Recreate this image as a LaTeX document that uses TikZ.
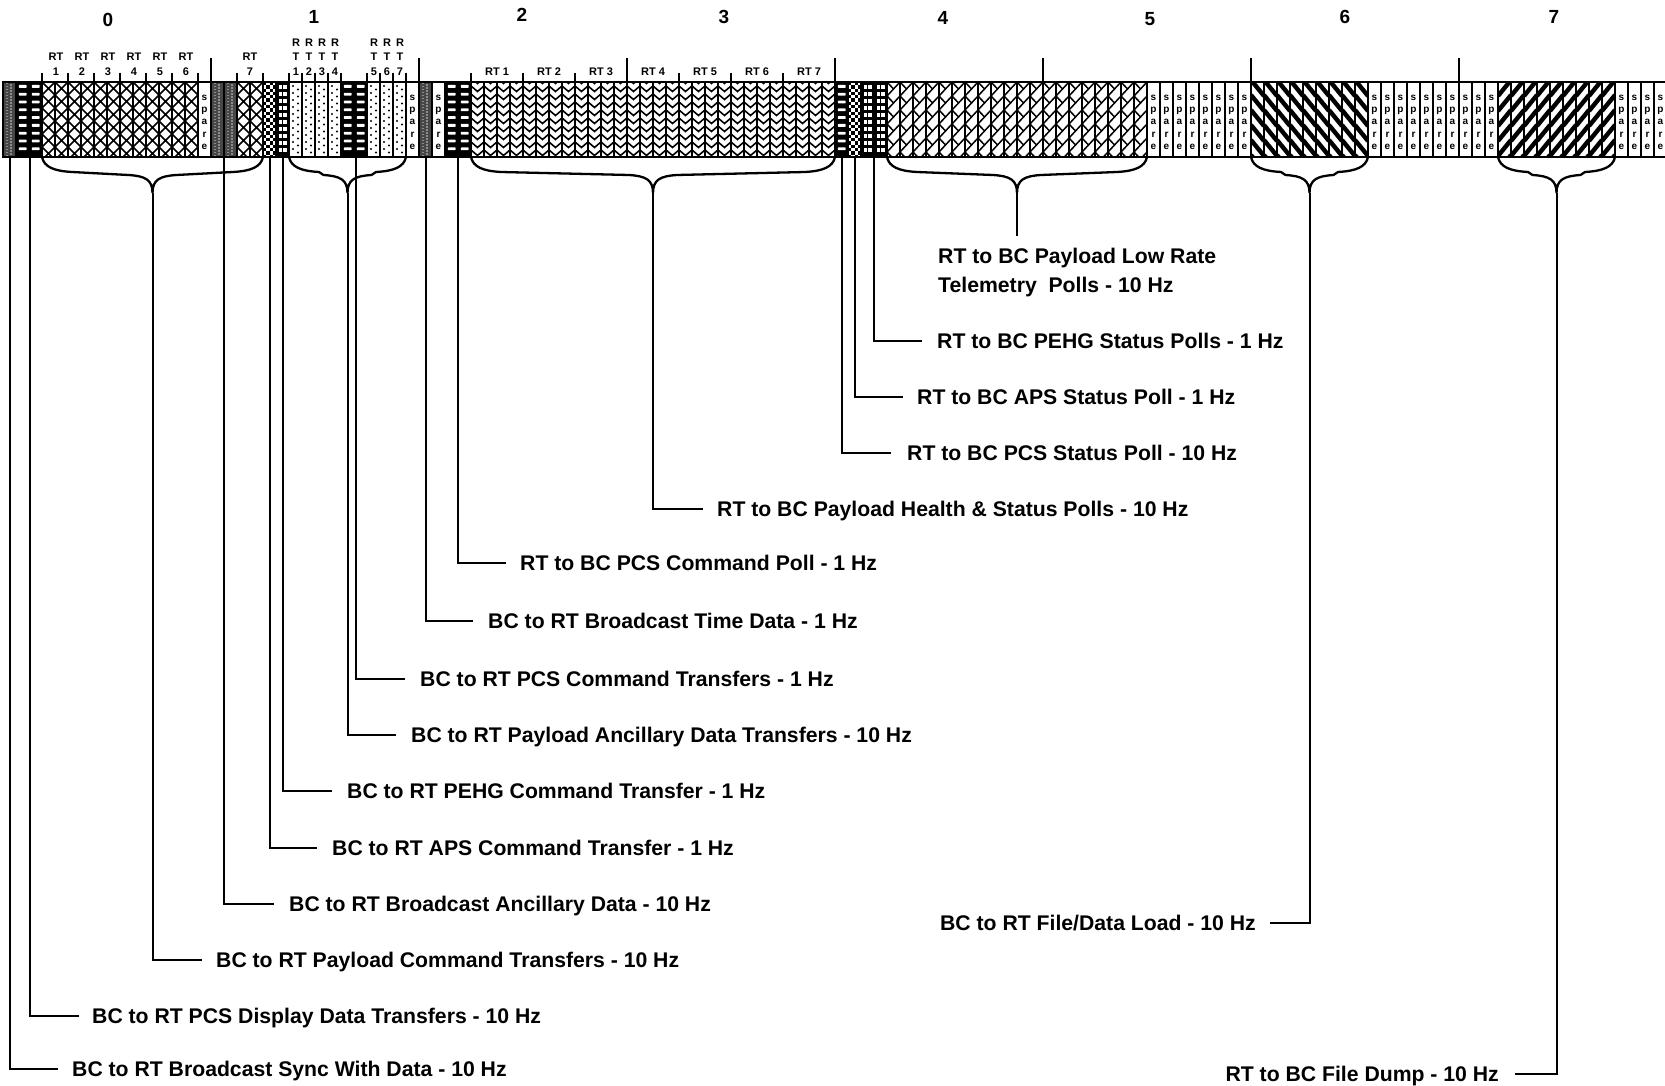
\documentclass[tikz,border=0pt]{standalone}
\usepackage{fontspec}
\setmainfont{Liberation Sans}
\newcommand\lblfont{\bfseries\fontsize{21.2}{29}\selectfont}
\newcommand\rtfont{\bfseries\fontsize{11}{12}\selectfont}
\newcommand\spfont{\bfseries\fontsize{10}{11}\selectfont}
\newcommand\frfont{\bfseries\fontsize{19}{22}\selectfont}
\tikzset{
 lbl/.style={font=\lblfont, inner sep=0pt, text height=15pt, text depth=0pt},
 rtl/.style={font=\rtfont, inner sep=0pt, text depth=0pt},
 spl/.style={font=\spfont, inner sep=0pt, anchor=base},
 frl/.style={font=\frfont, inner sep=0pt, text depth=0pt},
 lead/.style={line width=2pt},
 brc/.style={line width=2.3pt},
 tk/.style={line width=2pt},
}
% slot patterns
\newcommand\mypatS{\fill[black!72] (\xa,82) rectangle (\xb,157);
  \foreach \yy in {83,86,...,157}{\fill[white!55!black] (\xa+3,\yy) rectangle ++(1.5,1.5); \fill[white!55!black] (\xa+7,\yy+1.5) rectangle ++(1.5,1.5);}}
\newcommand\mypatH{\fill (\xa,82) rectangle (\xb,157);
  \foreach \yy in {85,92.8,...,154}{\fill[white,rounded corners=0.6pt] (\xa+2.8,\yy) rectangle (\xb-2.4,\yy+2.8);}}
\newcommand\mypatX{\foreach \yy in {82,95,...,160}{\draw[line width=1.6pt] (\xa,\yy) -- (\xb,\yy+13) (\xb,\yy) -- (\xa,\yy+13);}}
\newcommand\mypatC{\foreach \rr in {0,...,22}{\pgfmathsetmacro\off{mod(\rr,2)*3.3}\foreach \cc in {0,6.6}{\fill (\xa+\off+\cc,82+\rr*3.3) rectangle ++(3.3,3.3);}}}
\newcommand\mypatG{\fill (\xa,82) rectangle (\xb,157);
  \foreach \yy in {85,92,...,152}{\fill[white] (\xa+2.5,\yy) rectangle ++(3.4,3.6); \fill[white] (\xa+7.3,\yy) rectangle ++(3.4,3.6);}}
\newcommand\mypatD{\foreach \yy in {86,93,...,155}{\fill (\xa+4,\yy) circle (1.05); \fill (\xa+9,\yy+3.5) circle (1.05);}}
\newcommand\mypatV{\foreach \yy in {78,86,...,158}{\draw[line width=1.6pt] (\xa,\yy) -- (\xm,\yy+5.5) -- (\xb,\yy);}}
\newcommand\mypatL{\foreach \yy in {82,96,...,160}{\draw[line width=1.5pt] (\xa,\yy+14) -- (\xb,\yy) (\xa,\yy) -- (\xm,\yy+7);}}
\newcommand\mypatB{\foreach \yy in {50,65,...,160}{\draw[line width=4.4pt] (\xa,\yy) -- (\xb,\yy+16);}}
\newcommand\mypatF{\foreach \yy in {50,65,...,175}{\draw[line width=4.4pt] (\xa,\yy+16) -- (\xb,\yy);}}
\newcommand\mypatP{\foreach \ch/\yy in {s/101,p/113,a/124.5,r/137.5,e/149.5}{\node[spl] (sp\curslot\ch) at (\xm,\yy) {\ch};}}
\newcommand\myslot[2]{%
 \pgfmathsetmacro\xa{3+13*#1}%
 \pgfmathsetmacro\xb{\xa+13}%
 \pgfmathsetmacro\xm{\xa+6.5}%
 \pgfmathtruncatemacro\curslot{#1}%
 \begin{scope}
 \clip (\xa,82) rectangle (\xb,157);
 \csname mypat#2\endcsname
 \end{scope}}
\newcommand\mybrace[3]{%
 \pgfmathsetmacro\bmid{(#1+#2)/2}%
 \draw[brc] (#1,157) .. controls (#1+2,167) and (#1+12,171) .. (#1+30,172) -- (\bmid-24,175) .. controls (\bmid-7,176) and (\bmid,180) .. (\bmid,193) .. controls (\bmid,180) and (\bmid+7,176) .. (\bmid+24,175) -- (#2-30,172) .. controls (#2-12,171) and (#2-2,167) .. (#2,157);
 \coordinate (#3) at (\bmid,193);}
\begin{document}
\begin{tikzpicture}[x=1pt,y=-1pt]
\useasboundingbox (0,0) rectangle (1665,1086);
\fill[white] (0,0) rectangle (1665,1086);
% slots
\foreach \a/\b/\t in {0/0/S,1/2/H,3/14/X,15/15/P,16/17/S,18/19/X,20/20/C,21/21/G,22/25/D,26/27/H,28/30/D,31/31/P,32/32/S,33/33/P,34/35/H,36/63/V,64/64/H,65/65/C,66/67/G,68/87/L,88/95/P,96/104/B,105/114/P,115/123/F,124/127/P}{%
  \foreach \s in {\a,...,\b}{\myslot{\s}{\t}}}
% separators and border
\foreach \s in {0,...,128}{\draw[line width=2.3pt] (3+13*\s,82) -- (3+13*\s,157);}
\draw[line width=2.8pt] (3,82) -- (1670,82);
\draw[line width=2.8pt] (3,157) -- (1670,157);
\draw[line width=2.8pt] (3,80.6) -- (3,158.4);
% ticks
\foreach \x in {211,419,627,835,1043,1251,1459}{\draw[tk] (\x,58) -- (\x,82);}
\foreach \x in {42,68,94,120,146,172,198,237,263,289,302,315,328,341,367,380,393,406,471,523,575,679,731,783}{\draw[tk] (\x,73) -- (\x,82);}
% frame numbers
\foreach \n/\x/\y in {0/108/20,1/314/17,2/522/15,3/724/17,4/943/18,5/1150/19,6/1345/17,7/1554/17}{\node[frl] (fr\n) at (\x,\y) {\n};}
% RT labels frame 0
\foreach \n/\x in {1/56,2/82,3/108,4/134,5/160,6/186,7/250}{\node[rtl] (rta\n) at (\x,57) {RT}; \node[rtl] (rtb\n) at (\x,72) {\n};}
% RT labels frame 1
\foreach \n/\x in {1/296,2/309,3/322,4/335,5/374,6/387,7/400}{\node[rtl] (rr\n) at (\x,43) {R}; \node[rtl] (rtt\n) at (\x,57) {T}; \node[rtl] (rtn\n) at (\x,72) {\n};}
% RT labels frames 2-3
\foreach \n/\x in {1/497,2/549,3/601,4/653,5/705,6/757,7/809}{\node[rtl] (rtc\n) at (\x,72) {RT \n};}
% braces
\mybrace{42}{263}{tPC}
\mybrace{289}{406}{tPA}
\mybrace{471}{835}{tPH}
\mybrace{887}{1147}{tLR}
\mybrace{1251}{1368}{tFL}
\mybrace{1498}{1615}{tFD}
% leader start points
\coordinate (a1) at (9.5,157);
\coordinate (a2) at (29.5,157);
\coordinate (a4) at (224,157);
\coordinate (a5) at (269.5,157);
\coordinate (a6) at (282.5,157);
\coordinate (a8) at (356,157);
\coordinate (a9) at (425.5,157);
\coordinate (a10) at (458,157);
\coordinate (a12) at (841.5,157);
\coordinate (a13) at (854.5,157);
\coordinate (a14) at (874,157);
\coordinate (e15) at (1017,236);
% labels
\node[lbl,anchor=west] (l1) at (72,1069) {BC to RT Broadcast Sync With Data - 10 Hz};
\node[lbl,anchor=west] (l2) at (92,1016) {BC to RT PCS Display Data Transfers - 10 Hz};
\node[lbl,anchor=west] (l3) at (216,960) {BC to RT Payload Command Transfers - 10 Hz};
\node[lbl,anchor=west] (l4) at (289,904) {BC to RT Broadcast Ancillary Data - 10 Hz};
\node[lbl,anchor=west] (l5) at (332,848) {BC to RT APS Command Transfer - 1 Hz};
\node[lbl,anchor=west] (l6) at (347,791) {BC to RT PEHG Command Transfer - 1 Hz};
\node[lbl,anchor=west] (l7) at (411,735) {BC to RT Payload Ancillary Data Transfers - 10 Hz};
\node[lbl,anchor=west] (l8) at (420,679) {BC to RT PCS Command Transfers - 1 Hz};
\node[lbl,anchor=west] (l9) at (488,621) {BC to RT Broadcast Time Data - 1 Hz};
\node[lbl,anchor=west] (l10) at (520,563) {RT to BC PCS Command Poll - 1 Hz};
\node[lbl,anchor=west] (l11) at (717,509) {RT to BC Payload Health \& Status Polls - 10 Hz};
\node[lbl,anchor=west] (l12) at (907,453) {RT to BC PCS Status Poll - 10 Hz};
\node[lbl,anchor=west] (l13) at (917,397) {RT to BC APS Status Poll - 1 Hz};
\node[lbl,anchor=west] (l14) at (937,341) {RT to BC PEHG Status Polls - 1 Hz};
\node[font=\lblfont,inner sep=0pt,align=left,anchor=north west] (l15) at (938,248) {RT to BC Payload Low Rate\\Telemetry\ \ Polls - 10 Hz};
\node[lbl,anchor=east] (l16) at (1256,923) {BC to RT File/Data Load - 10 Hz};
\node[lbl,anchor=east] (l17) at (1499,1074) {RT to BC File Dump - 10 Hz};
% leaders
\draw[lead] (a1) |- ([xshift=-14pt]l1.west);
\draw[lead] (a2) |- ([xshift=-13pt]l2.west);
\draw[lead] (tPC) |- ([xshift=-14pt]l3.west);
\draw[lead] (a4) |- ([xshift=-15pt]l4.west);
\draw[lead] (a5) |- ([xshift=-15pt]l5.west);
\draw[lead] (a6) |- ([xshift=-15pt]l6.west);
\draw[lead] (tPA) |- ([xshift=-15pt]l7.west);
\draw[lead] (a8) |- ([xshift=-15pt]l8.west);
\draw[lead] (a9) |- ([xshift=-15pt]l9.west);
\draw[lead] (a10) |- ([xshift=-14pt]l10.west);
\draw[lead] (tPH) |- ([xshift=-14pt]l11.west);
\draw[lead] (a12) |- ([xshift=-16pt]l12.west);
\draw[lead] (a13) |- ([xshift=-14pt]l13.west);
\draw[lead] (a14) |- ([xshift=-15pt]l14.west);
\draw[lead] (tLR) -- (e15);
\draw[lead] (tFL) |- ([xshift=14pt]l16.east);
\draw[lead] (tFD) |- ([xshift=16pt]l17.east);
\end{tikzpicture}
\end{document}
